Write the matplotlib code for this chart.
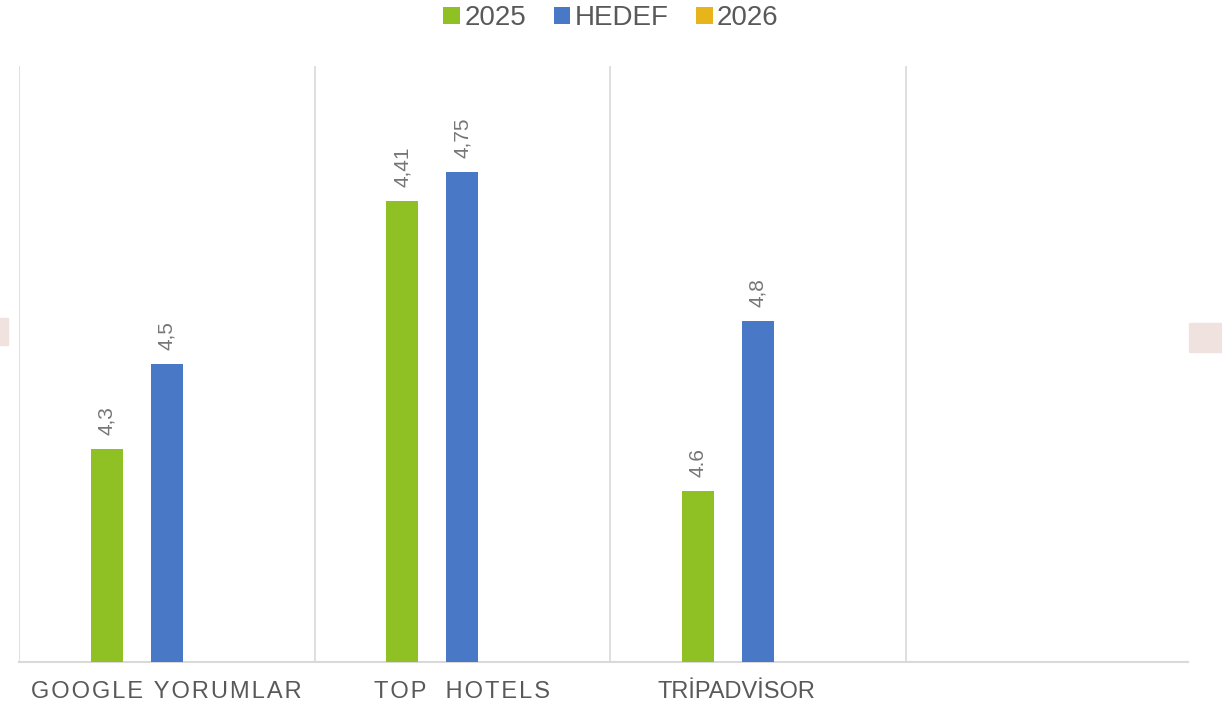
import matplotlib.pyplot as plt
import matplotlib.transforms as mtransforms
from matplotlib.patches import Rectangle
import numpy as np

# categories and series (bar heights as drawn, labels as printed on the chart)
categories = ["GOOGLE YORUMLAR", "TOP  HOTELS", "TRİPADVİSOR", ""]
series_names = ["2025", "HEDEF", "2026"]
colors = ["#8fc124", "#4878c6", "#e8b41c"]
heights_2025 = [2.13, 4.61, 1.71, 0]
heights_hedef = [2.98, 4.90, 3.41, 0]
heights_2026 = [0, 0, 0, 0]
labels_2025 = ["4,3", "4,41", "4.6", ""]
labels_hedef = ["4,5", "4,75", "4,8", ""]
labels_2026 = ["", "", "", ""]

plt.rcParams['font.family'] = ['Liberation Sans', 'DejaVu Sans']

W, H = 1222, 704
fig = plt.figure(figsize=(W / 100, H / 100), dpi=100)
ax = fig.add_axes([19 / W, 42 / H, 1169 / W, 596 / H])

x = np.arange(len(categories)) + 0.5
offset = 0.203
width = 0.108
all_heights = [heights_2025, heights_hedef, heights_2026]
all_labels = [labels_2025, labels_hedef, labels_2026]

for i in range(3):
    xs = x + (i - 1) * offset
    ax.bar(xs, all_heights[i], width=width, color=colors[i], label=series_names[i], zorder=3)
    for xi, h, lab in zip(xs, all_heights[i], all_labels[i]):
        if lab:
            ax.annotate(lab, (xi, h), xytext=(0, 10), textcoords='offset points',
                        rotation=90, ha='center', va='bottom', fontsize=15, color='#767676')

ax.set_xlim(0, 1169 / 295.5)
ax.set_ylim(0, 5.96)
for g in range(4):
    ax.axvline(g, color='#d9d9d9', lw=1.2, zorder=1)

for s in ['top', 'right', 'left']:
    ax.spines[s].set_visible(False)
ax.spines['bottom'].set_color('#d9d9d9')
ax.spines['bottom'].set_linewidth(1.5)
ax.set_yticks([])

# letter-spaced tick labels (hair spaces between letters)
hs = '\u200a'
tick_text = [hs.join(c) if c != "TRİPADVİSOR" else c for c in categories]
ax.set_xticks(x)
ax.set_xticklabels(tick_text, fontsize=17, color='#595959')
ax.tick_params(axis='x', length=0, pad=14)
lbl = ax.get_xticklabels()[2]
lbl.set_transform(lbl.get_transform() + mtransforms.ScaledTranslation(-0.21, 0, fig.dpi_scale_trans))

# legend
handles, names = ax.get_legend_handles_labels()
leg = fig.legend(handles, names, loc='upper center', bbox_to_anchor=(0.5, 1.028), ncol=3,
                 frameon=False, fontsize=20, handlelength=0.6, handleheight=0.6,
                 handletextpad=0.15, columnspacing=1.0)
for t in leg.get_texts():
    t.set_color('#595959')

# pink background pieces at the edges
fig.patches.append(Rectangle((0, (704 - 345) / H), 8 / W, 27 / H, transform=fig.transFigure,
                             color='#f0e2de', zorder=0))
fig.patches.append(Rectangle((1189 / W, (704 - 352) / H), 33 / W, 29 / H, transform=fig.transFigure,
                             color='#f0e2de', zorder=0))

fig.savefig('out.png', dpi=100)
